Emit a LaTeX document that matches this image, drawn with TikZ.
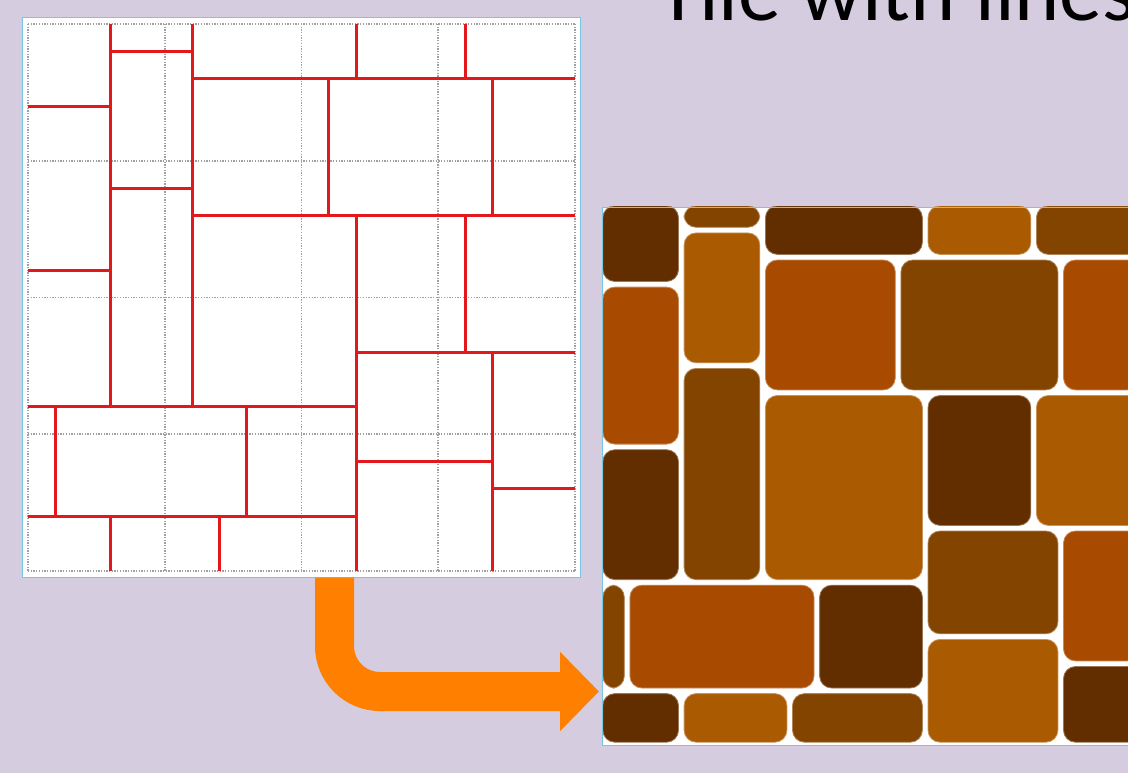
\documentclass[tikz,border=0pt]{standalone}
\usepackage{fontspec}
\setmainfont{Carlito}
\usetikzlibrary{arrows.meta}
\definecolor{bg}{RGB}{213,204,224}
\definecolor{framecol}{RGB}{120,198,226}
\definecolor{redline}{RGB}{226,24,28}
\definecolor{gridgray}{RGB}{160,160,160}
\definecolor{tdark}{RGB}{98,46,0}
\definecolor{tmed}{RGB}{131,68,0}
\definecolor{trust}{RGB}{168,75,0}
\definecolor{torange}{RGB}{170,90,0}
\definecolor{arrowor}{RGB}{255,127,0}
\newcommand\mytile[5]{\fill[#5,rounded corners=12pt,draw=#5!65!white,line width=0.8pt] ([xshift=2.8pt,yshift=-2.8pt]#1,#2) rectangle ([xshift=-2.8pt,yshift=2.8pt]#3,#4);}
\begin{document}
\begin{tikzpicture}[x=1pt,y=-1pt,
  panel/.style={fill=white,draw=framecol,line width=1.2pt,inner sep=0pt,anchor=north west},
  gridline/.style={draw=gridgray,line width=1.6pt,dash pattern=on 1.3pt off 1.4pt},
  cutline/.style={draw=redline,line width=3pt},
  bigarrow/.style={draw=arrowor,line width=39pt,rounded corners=45.5pt,-{Triangle[width=77pt,length=39pt]}},
]
\useasboundingbox[fill=bg] (0,0) rectangle (1128,773);
% title
\node[anchor=base west,inner sep=0pt,font=\fontsize{86}{92}\selectfont] (title) at (657,21) {Tile with lines};
% left panel
\node[panel,minimum width=558pt,minimum height=560pt] (src) at (22,17) {};
\begin{scope}[shift={(28,24)},x=27.35pt,y=-27.35pt]
  \foreach \g in {0,5,10,15,20}{
    \draw[gridline] (\g,0) -- (\g,20);
    \draw[gridline] (0,\g) -- (20,\g);
  }
  % vertical cuts
  \draw[cutline] (3,0) -- (3,14);
  \draw[cutline] (6,0) -- (6,14);
  \draw[cutline] (12,0) -- (12,2);
  \draw[cutline] (16,0) -- (16,2);
  \draw[cutline] (11,2) -- (11,7);
  \draw[cutline] (17,2) -- (17,7);
  \draw[cutline] (12,7) -- (12,20);
  \draw[cutline] (16,7) -- (16,12);
  \draw[cutline] (17,12) -- (17,20);
  \draw[cutline] (1,14) -- (1,18);
  \draw[cutline] (8,14) -- (8,18);
  \draw[cutline] (3,18) -- (3,20);
  \draw[cutline] (7,18) -- (7,20);
  % horizontal cuts
  \draw[cutline] (3,1) -- (6,1);
  \draw[cutline] (6,2) -- (20,2);
  \draw[cutline] (0,3) -- (3,3);
  \draw[cutline] (3,6) -- (6,6);
  \draw[cutline] (6,7) -- (20,7);
  \draw[cutline] (0,9) -- (3,9);
  \draw[cutline] (12,12) -- (20,12);
  \draw[cutline] (0,14) -- (12,14);
  \draw[cutline] (12,16) -- (17,16);
  \draw[cutline] (17,17) -- (20,17);
  \draw[cutline] (0,18) -- (12,18);
\end{scope}
% right panel
\begin{scope}
  \clip (602,207) rectangle (1128,745);
  \fill[white] (602,207) rectangle (1128,745);
  \begin{scope}[shift={(600,203)},x=27.1pt,y=-27.1pt]
    \mytile{0}{0}{3}{3}{tdark}
    \mytile{3}{0}{6}{1}{tmed}
    \mytile{6}{0}{12}{2}{tdark}
    \mytile{12}{0}{16}{2}{torange}
    \mytile{16}{0}{20}{2}{tmed}
    \mytile{0}{3}{3}{9}{trust}
    \mytile{3}{1}{6}{6}{torange}
    \mytile{6}{2}{11}{7}{trust}
    \mytile{11}{2}{17}{7}{tmed}
    \mytile{17}{2}{20}{7}{trust}
    \mytile{3}{6}{6}{14}{tmed}
    \mytile{0}{9}{3}{14}{tdark}
    \mytile{6}{7}{12}{14}{torange}
    \mytile{12}{7}{16}{12}{tdark}
    \mytile{16}{7}{20}{12}{torange}
    \mytile{12}{12}{17}{16}{tmed}
    \mytile{17}{12}{20}{17}{trust}
    \mytile{12}{16}{17}{20}{torange}
    \mytile{17}{17}{20}{20}{tdark}
    \mytile{0}{14}{1}{18}{tmed}
    \mytile{1}{14}{8}{18}{trust}
    \mytile{8}{14}{12}{18}{tdark}
    \mytile{0}{18}{3}{20}{tdark}
    \mytile{3}{18}{7}{20}{torange}
    \mytile{7}{18}{12}{20}{tmed}
  \end{scope}
\end{scope}
\node[draw=framecol,line width=1.2pt,inner sep=0pt,anchor=north west,minimum width=530pt,minimum height=538pt] (dst) at (602,207) {};
% arrow
\coordinate (astart) at (334.5,577.5);
\coordinate (aend) at (599,691.5);
\draw[bigarrow] (astart) |- (aend);
\end{tikzpicture}
\end{document}
